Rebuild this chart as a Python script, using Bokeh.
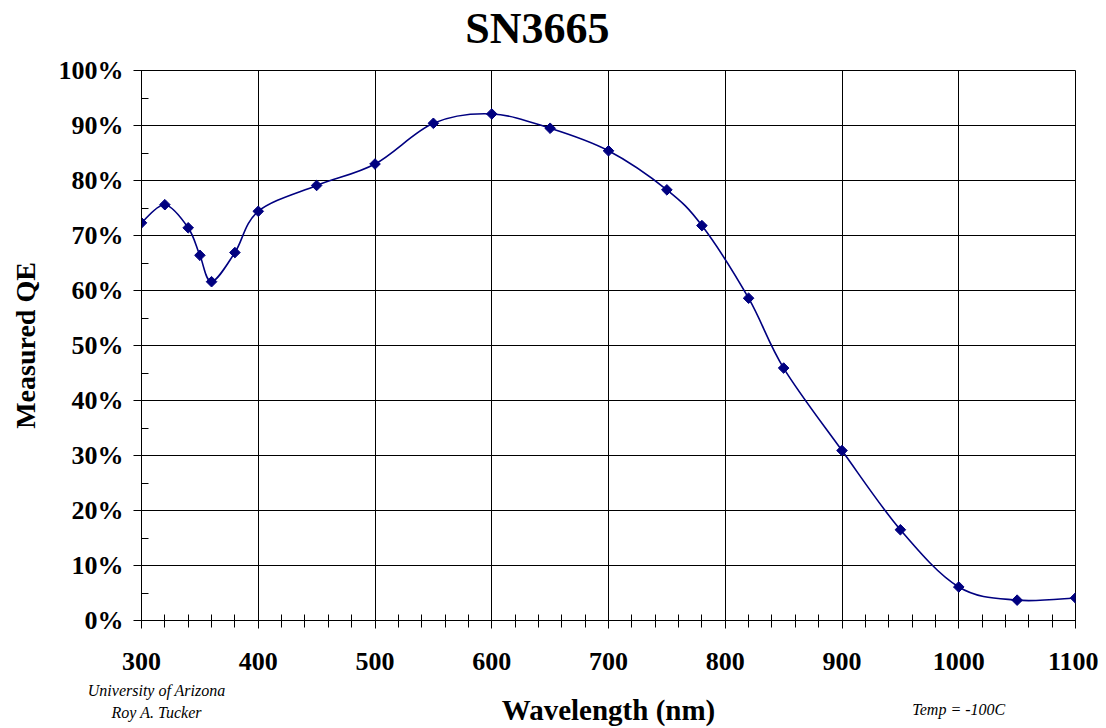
import numpy as np
from bokeh.plotting import figure
from bokeh.models import (ColumnDataSource, Range1d, SingleIntervalTicker, FixedTicker,
                          PrintfTickFormatter, LinearAxis)
from bokeh.embed import file_html
from bokeh.resources import INLINE

# ---- data ----
wavelength = [300, 320, 340, 350, 360, 380, 400, 450, 500, 550, 600, 650, 700,
              750, 780, 820, 850, 900, 950, 1000, 1050, 1100]
qe = [72.3, 75.6, 71.4, 66.4, 61.6, 66.9, 74.4, 79.1, 83.0, 90.4, 92.1, 89.5, 85.4,
      78.3, 71.8, 58.6, 45.9, 30.9, 16.5, 6.1, 3.7, 4.1]

title_text = "SN3665"
title_at = 639
x_label = "Wavelength (nm)"
y_label = "Measured QE"
note_left = "University of Arizona\nRoy A. Tucker"
note_right = "Temp = -100C"
note_left_at = 313
note_right_at = 1000

SERIF = "Liberation Serif"
NAVY = "#000080"

# smooth curve (Catmull-Rom style Bezier segments, like a spreadsheet's smoothed line)
x = np.array(wavelength, dtype=float)
y = np.array(qe, dtype=float)
xp = np.concatenate([[x[0]], x, [x[-1]]])
yp = np.concatenate([[y[0]], y, [y[-1]]])
n = len(x)
x0, y0, x1, y1, cx0, cy0, cx1, cy1 = [], [], [], [], [], [], [], []
for i in range(n - 1):
    a, b = i + 1, i + 2
    x0.append(xp[a]); y0.append(yp[a])
    x1.append(xp[b]); y1.append(yp[b])
    cx0.append(xp[a] + (xp[b] - xp[a - 1]) / 6.0)
    cy0.append(yp[a] + (yp[b] - yp[a - 1]) / 6.0)
    cx1.append(xp[b] - (xp[b + 1] - xp[a]) / 6.0)
    cy1.append(yp[b] - (yp[b + 1] - yp[a]) / 6.0)
curve = ColumnDataSource(dict(x0=x0, y0=y0, x1=x1, y1=y1, cx0=cx0, cy0=cy0, cx1=cx1, cy1=cy1))
pts = ColumnDataSource(dict(x=wavelength, y=qe))

p = figure(width=1098, height=728, output_backend="svg", toolbar_location=None,
           x_range=Range1d(300, 1100), y_range=Range1d(0, 100),
           min_border_left=141, min_border_right=23, min_border_top=69, min_border_bottom=105)
p.background_fill_color = "white"
p.border_fill_color = "white"
p.outline_line_color = "black"
p.outline_line_width = 1
p.title.text = ""
p.title.standoff = 0

p.bezier(x0="x0", y0="y0", x1="x1", y1="y1", cx0="cx0", cy0="cy0", cx1="cx1", cy1="cy1",
         source=curve, line_color=NAVY, line_width=1.6)
p.scatter("x", "y", source=pts, marker="square", angle=np.pi / 4, size=7.5,
          fill_color=NAVY, line_color=NAVY)

xa = p.xaxis[0]
xa.ticker = SingleIntervalTicker(interval=100, num_minor_ticks=5)
xa.axis_label = x_label
xa.axis_label_text_font = SERIF
xa.axis_label_text_font_style = "bold"
xa.axis_label_text_font_size = "29px"
xa.axis_label_text_color = "black"
xa.axis_label_standoff = 21
xa.major_label_text_font = SERIF
xa.major_label_text_font_style = "bold"
xa.major_label_text_font_size = "26px"
xa.major_label_text_color = "black"
xa.major_label_standoff = 24
xa.major_tick_in = 0
xa.major_tick_out = 8
xa.minor_tick_in = 6
xa.minor_tick_out = 7
xa.axis_line_color = "black"
xa.major_tick_line_color = "black"
xa.minor_tick_line_color = "black"

ya = p.yaxis[0]
ya.ticker = SingleIntervalTicker(interval=10, num_minor_ticks=2)
ya.formatter = PrintfTickFormatter(format="%d%%")
ya.axis_label = y_label
ya.axis_label_text_font = SERIF
ya.axis_label_text_font_style = "bold"
ya.axis_label_text_font_size = "28px"
ya.axis_label_text_color = "black"
ya.axis_label_standoff = 15
ya.major_label_text_font = SERIF
ya.major_label_text_font_style = "bold"
ya.major_label_text_font_size = "26px"
ya.major_label_text_color = "black"
ya.major_label_standoff = 10
ya.major_tick_in = 8
ya.major_tick_out = 8
ya.minor_tick_in = 7
ya.minor_tick_out = 0
ya.axis_line_color = "black"
ya.major_tick_line_color = "black"
ya.minor_tick_line_color = "black"

p.xgrid.grid_line_color = "black"
p.ygrid.grid_line_color = "black"
p.xgrid.grid_line_alpha = 1.0
p.ygrid.grid_line_alpha = 1.0


def text_axis(pos, text, standoff, side, size, style):
    ax = LinearAxis(ticker=FixedTicker(ticks=[pos]), major_label_overrides={pos: text},
                    axis_line_color=None, major_tick_line_color=None, minor_tick_line_color=None,
                    major_tick_in=0, major_tick_out=0, minor_tick_in=0, minor_tick_out=0,
                    major_label_standoff=standoff, major_label_text_font=SERIF,
                    major_label_text_font_style=style, major_label_text_font_size=size,
                    major_label_text_color="black", major_label_text_line_height=1.3)
    p.add_layout(ax, side)
    return ax


# chart title, above the frame
text_axis(title_at, title_text, 18, "above", "44px", "bold")
# footnotes below the frame
text_axis(note_left_at, note_left, -47, "below", "16px", "italic")
text_axis(note_right_at, note_right, -28, "below", "16px", "italic")

open("out.html", "w").write(file_html(p, INLINE))
